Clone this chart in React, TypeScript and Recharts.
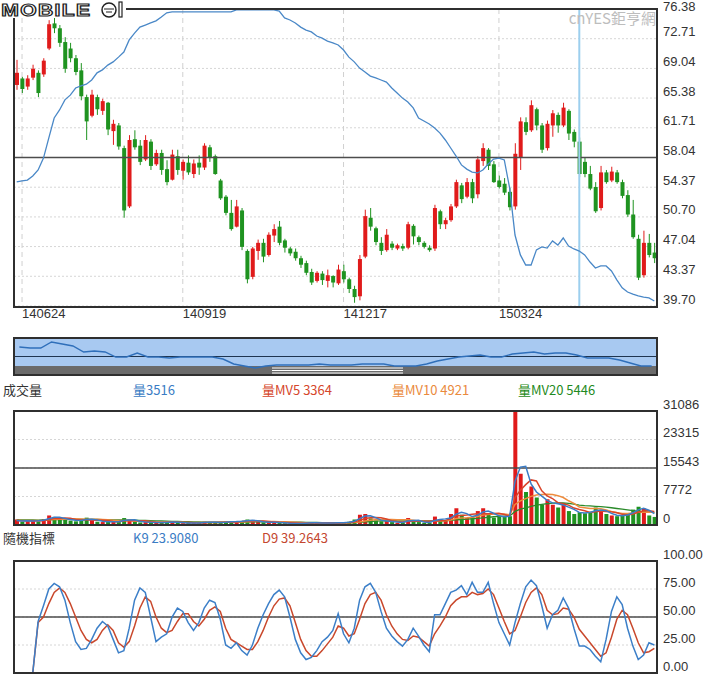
import React from 'react'
import {
  ComposedChart,
  Bar,
  Line,
  XAxis,
  YAxis,
  CartesianGrid,
  ReferenceLine,
  Cell,
} from 'recharts'

// x axis: bar index -> date label
const dateTicks = [1, 31, 61, 90]
const dateLabels = ['140624', '140919', '141217', '150324']
const cursorIndex = 105

const priceTicks = [39.7, 43.37, 47.04, 50.7, 54.37, 58.04, 61.71, 65.38, 69.04, 72.71, 76.38]
const volTicks = [0, 7772, 15543, 23315, 31086]
const kdTicks = [0, 25, 50, 75, 100]

const opens = [
  67.0, 67.8, 66.8, 67.9, 68.5, 68.3, 71.5, 74.6, 74.0, 72.3,
  71.5, 70.3, 68.8, 65.5, 63.2, 65.5, 63.8, 64.8, 61.3, 62.0,
  59.2, 52.0, 60.3, 59.5, 57.8, 60.0, 57.2, 58.6, 56.6, 55.3,
  58.2, 56.4, 57.4, 56.0, 57.4, 56.8, 59.3, 58.2, 55.2, 53.2,
  51.2, 49.5, 51.5, 46.5, 43.3, 46.5, 47.5, 46.0, 48.4, 49.5,
  47.8, 46.8, 46.4, 45.6, 45.0, 43.9, 42.8, 43.7, 42.8, 43.4,
  42.5, 44.0, 43.0, 41.8, 40.9, 45.8, 50.6, 49.3, 47.5, 46.6,
  47.4, 46.8, 47.1, 46.9, 49.6, 48.2, 47.5, 46.9, 46.8, 51.4,
  49.8, 50.3, 52.0, 54.6, 53.2, 55.0, 53.5, 57.6, 59.0, 57.2,
  55.2, 54.8, 53.8, 52.0, 58.0, 62.4, 61.4, 64.0, 62.0, 59.2,
  62.0, 63.3, 62.0, 63.8, 61.2, 60.0, 57.5, 56.0, 54.4, 51.8,
  56.2, 55.2, 56.2, 55.0, 53.4, 51.0, 48.0, 43.5, 47.5, 46.3,
]
const highs = [
  70.1, 68.0, 68.2, 69.5, 68.8, 70.3, 75.0, 75.9, 74.4, 72.9,
  72.2, 70.7, 69.7, 65.8, 66.4, 65.8, 65.3, 64.9, 62.7, 62.3,
  59.5, 60.8, 61.4, 60.2, 60.8, 60.3, 59.0, 59.0, 57.7, 59.0,
  59.0, 57.8, 58.3, 57.8, 58.3, 59.8, 59.6, 58.4, 55.4, 53.4,
  52.8, 52.8, 51.8, 46.7, 47.0, 47.9, 48.0, 48.8, 49.8, 50.2,
  48.0, 47.0, 46.8, 45.9, 45.3, 44.3, 44.0, 44.0, 44.2, 43.5,
  44.8, 44.8, 43.2, 42.2, 46.0, 51.6, 51.8, 49.5, 48.2, 49.2,
  47.7, 47.4, 47.4, 50.1, 49.8, 48.4, 47.7, 47.2, 52.2, 51.6,
  50.6, 52.3, 55.3, 54.9, 55.5, 55.4, 58.2, 59.8, 59.2, 57.6,
  55.8, 55.5, 54.3, 59.8, 63.0, 63.0, 65.1, 64.2, 62.3, 62.6,
  63.9, 63.6, 64.8, 64.0, 61.5, 60.5, 58.0, 57.0, 55.0, 57.0,
  56.5, 56.9, 56.5, 55.3, 54.0, 52.8, 48.5, 49.0, 48.6, 47.5,
]
const lows = [
  66.4, 66.0, 66.4, 67.6, 65.5, 68.0, 71.3, 73.4, 71.7, 68.5,
  69.8, 68.2, 65.1, 60.2, 63.0, 63.3, 63.3, 60.8, 59.6, 59.0,
  50.6, 51.8, 59.0, 57.1, 57.6, 56.5, 57.0, 55.9, 54.6, 55.2,
  55.9, 55.3, 55.9, 55.5, 55.9, 56.5, 57.5, 55.9, 52.8, 50.9,
  49.0, 49.4, 46.6, 42.5, 43.0, 45.4, 45.1, 45.8, 47.6, 47.2,
  46.3, 45.9, 45.3, 44.4, 43.5, 42.3, 42.6, 42.3, 42.0, 42.0,
  42.3, 42.6, 41.3, 40.1, 40.4, 45.6, 49.0, 47.2, 46.0, 46.4,
  46.6, 46.6, 46.5, 46.7, 47.3, 47.2, 46.8, 46.4, 46.5, 49.2,
  49.2, 50.1, 51.8, 52.4, 53.0, 52.4, 53.0, 57.0, 56.5, 54.9,
  54.2, 53.4, 51.5, 51.6, 56.5, 60.8, 61.2, 61.4, 58.6, 58.9,
  60.6, 61.1, 61.8, 60.2, 59.3, 55.6, 55.6, 54.0, 51.2, 51.5,
  54.8, 55.0, 54.8, 53.0, 50.7, 48.0, 42.9, 43.2, 45.7, 45.0,
]
const closes = [
  68.5, 66.5, 67.8, 69.0, 66.0, 70.0, 74.5, 74.0, 72.2, 69.0,
  70.3, 68.6, 65.6, 62.5, 65.8, 64.0, 65.0, 61.5, 62.2, 59.4,
  51.5, 60.2, 59.3, 57.5, 60.2, 57.0, 58.6, 56.5, 55.0, 58.4,
  56.5, 57.5, 56.2, 57.3, 56.8, 59.5, 58.0, 56.0, 53.0, 51.2,
  49.2, 52.0, 47.0, 43.0, 46.8, 47.5, 45.8, 48.5, 49.2, 47.5,
  46.9, 46.2, 45.6, 44.8, 43.8, 42.6, 43.8, 42.9, 43.5, 42.6,
  44.2, 43.0, 41.8, 40.8, 45.5, 50.8, 49.5, 47.6, 46.5, 48.5,
  46.9, 47.2, 46.8, 49.8, 48.3, 47.6, 47.0, 46.6, 51.8, 49.8,
  50.3, 52.0, 55.0, 52.9, 55.0, 53.0, 57.8, 59.2, 57.0, 55.0,
  54.4, 53.7, 51.9, 58.5, 62.5, 61.2, 64.5, 62.0, 59.0, 62.2,
  63.5, 62.0, 64.2, 61.0, 60.0, 56.0, 56.0, 54.2, 51.4, 56.2,
  55.0, 56.3, 55.0, 53.3, 51.0, 48.2, 43.2, 47.5, 46.0, 45.6,
]

// blue overlay line in the price panel (own 0-100 scale)
const trendLine = [
  41.8, 42.1, 42.4, 43.8, 45.8, 49.8, 56.6, 63.3, 66.0, 69.4,
  71.0, 73.4, 74.1, 74.7, 76.1, 78.5, 79.5, 81.1, 82.2, 83.8,
  85.5, 89.6, 91.9, 93.9, 94.6, 95.3, 96.0, 97.3, 98.7, 99.0,
  99.0, 99.0, 99.0, 99.0, 99.0, 99.0, 99.0, 99.0, 99.0, 99.0,
  99.0, 99.7, 99.7, 99.7, 99.7, 99.7, 99.7, 99.7, 99.7, 99.3,
  97.0, 96.3, 95.3, 93.9, 92.9, 92.3, 90.9, 90.2, 89.2, 88.6,
  87.9, 86.2, 83.8, 82.2, 80.1, 78.8, 77.4, 76.8, 76.1, 75.4,
  73.4, 71.7, 70.0, 68.7, 66.7, 63.3, 62.3, 61.3, 59.9, 58.2,
  55.9, 53.2, 50.5, 47.5, 46.1, 45.1, 44.8, 45.8, 47.8, 49.5,
  49.8, 49.2, 39.7, 23.9, 17.2, 13.8, 13.8, 18.9, 19.9, 19.5,
  21.9, 20.5, 22.9, 20.2, 19.2, 18.5, 17.2, 14.8, 12.8, 13.5,
  13.5, 11.8, 8.8, 6.1, 4.7, 4.0, 3.4, 3.0, 2.7, 1.7,
]

const volumes = [
  1500, 900, 1100, 1300, 1000, 1600, 2600, 2200, 1500, 1700,
  1200, 1000, 1400, 2000, 1300, 900, 800, 1000, 900, 800,
  1900, 1400, 900, 700, 800, 700, 600, 700, 800, 900,
  600, 500, 600, 500, 600, 900, 700, 600, 800, 900,
  1000, 900, 1100, 1500, 1200, 800, 700, 700, 800, 600,
  500, 400, 400, 500, 600, 700, 500, 500, 600, 500,
  700, 600, 900, 1500, 2800, 3000, 1800, 1200, 1000, 1100,
  800, 600, 700, 1900, 1100, 800, 600, 700, 2300, 1500,
  1200, 3000, 4600, 2800, 1900, 2200, 3800, 4600, 3000, 2000,
  2500, 2200, 2400, 31086, 14000, 9000, 10500, 7500, 5600, 7000,
  5500, 4800, 6000, 3800, 3000, 3516, 3200, 3600, 4800, 3900,
  3000, 2600, 2400, 2600, 3200, 4200, 5000, 4500, 2600, 2200,
]
const volLine = [
  1200, 1100, 1170, 1100, 1130, 1300, 1730, 2130, 2100, 1800,
  1470, 1300, 1200, 1470, 1570, 1400, 1000, 900, 900, 900,
  1200, 1370, 1400, 1000, 800, 730, 700, 670, 700, 800,
  770, 670, 570, 530, 570, 670, 730, 730, 700, 770,
  900, 930, 1000, 1170, 1270, 1170, 900, 730, 730, 700,
  630, 500, 430, 430, 500, 600, 600, 570, 530, 530,
  600, 600, 730, 1000, 1730, 2430, 2530, 2000, 1330, 1100,
  970, 830, 700, 1070, 1230, 1270, 830, 700, 1200, 1500,
  1670, 1900, 2930, 3470, 3100, 2300, 2630, 3530, 3800, 3200,
  2500, 2230, 2370, 11900, 15800, 16000, 11200, 9000, 7870, 6700,
  6030, 5770, 5430, 4870, 4270, 3440, 3240, 3440, 3870, 4100,
  3900, 3170, 2670, 2530, 2730, 3330, 4130, 4570, 4030, 3100,
]
const mv5 = [
  1200, 1150, 1150, 1160, 1160, 1180, 1520, 1740, 1780, 1920,
  1840, 1520, 1360, 1460, 1380, 1320, 1280, 1200, 980, 880,
  1080, 1200, 1180, 1140, 1140, 900, 740, 700, 720, 740,
  720, 700, 680, 620, 560, 620, 660, 660, 720, 780,
  800, 840, 940, 1080, 1140, 1100, 1060, 980, 840, 720,
  660, 600, 540, 480, 480, 520, 540, 560, 580, 560,
  560, 580, 660, 840, 1300, 1760, 2000, 2060, 1960, 1620,
  1180, 940, 840, 1020, 1020, 1020, 1020, 1020, 1100, 1180,
  1260, 1740, 2520, 2620, 2700, 2900, 3060, 3060, 3100, 3120,
  3180, 2860, 2420, 7500, 9500, 11000, 12300, 12000, 9300, 7920,
  7220, 6080, 5780, 5420, 4620, 4220, 3900, 3420, 3620, 3800,
  3700, 3580, 3340, 2900, 2760, 3000, 3480, 3900, 3900, 3700,
]
const mv10 = [
  1300, 1250, 1250, 1250, 1250, 1300, 1400, 1500, 1550, 1600,
  1650, 1700, 1650, 1600, 1600, 1550, 1500, 1400, 1300, 1200,
  1200, 1150, 1100, 1050, 1000, 950, 900, 850, 800, 780,
  760, 730, 700, 700, 700, 690, 680, 690, 700, 720,
  760, 800, 850, 920, 980, 1010, 1000, 980, 960, 920,
  880, 820, 760, 700, 640, 600, 570, 560, 560, 550,
  550, 550, 600, 680, 850, 1100, 1280, 1400, 1500, 1500,
  1470, 1450, 1400, 1400, 1300, 1100, 1000, 980, 1060, 1100,
  1140, 1380, 1760, 1900, 1980, 2100, 2330, 2720, 2850, 2990,
  3050, 2980, 2800, 5600, 6600, 7200, 7800, 8200, 8350, 8400,
  8300, 8000, 7500, 6600, 5900, 4920, 4700, 4500, 4500, 4400,
  4100, 3700, 3400, 3150, 3150, 3300, 3450, 3550, 3500, 3500,
]
const mv20 = [
  1400, 1380, 1370, 1360, 1350, 1360, 1400, 1450, 1480, 1500,
  1520, 1540, 1540, 1530, 1520, 1500, 1480, 1450, 1420, 1400,
  1380, 1350, 1320, 1280, 1240, 1200, 1150, 1100, 1050, 1000,
  960, 920, 880, 850, 820, 800, 790, 780, 780, 780,
  780, 790, 800, 820, 840, 860, 860, 850, 840, 830,
  810, 790, 770, 750, 720, 700, 680, 660, 640, 620,
  610, 600, 610, 640, 720, 850, 950, 1050, 1100, 1150,
  1150, 1150, 1150, 1150, 1150, 1150, 1120, 1100, 1100, 1100,
  1150, 1260, 1400, 1500, 1600, 1700, 1800, 1950, 2100, 2250,
  2350, 2400, 2400, 3700, 4300, 4700, 5100, 5400, 5600, 5800,
  5950, 6000, 6050, 5900, 5700, 5446, 5300, 5200, 5100, 5000,
  4900, 4700, 4500, 4300, 4100, 3900, 3700, 3600, 3500, 3400,
]

const kValues = [
  0, 0, 0, 0, 46, 60, 75, 80, 77, 65,
  45, 28, 21, 22, 30, 40, 46, 42, 30, 18,
  20, 40, 65, 76, 72, 50, 28, 32, 35, 50,
  58, 55, 45, 38, 45, 58, 65, 63, 48, 25,
  22, 27, 20, 16, 25, 40, 52, 62, 70, 74,
  68, 50, 30, 18, 12, 14, 20, 28, 32, 38,
  53, 35, 27, 40, 65, 77, 80, 72, 55, 40,
  33, 28, 24, 30, 40, 33, 25, 19, 52, 52,
  62, 72, 74, 78, 70, 81, 72, 72, 81, 62,
  45, 35, 25, 45, 62, 77, 83, 78, 60, 40,
  52, 56, 67, 58, 40, 24, 24, 21, 15, 10,
  30, 55, 68, 61, 40, 24, 12, 16, 27, 25,
]
const dValues = [
  0, 0, 0, 0, 45, 50, 62, 72, 76, 72,
  62, 50, 38, 30, 27, 30, 38, 43, 38, 27,
  23, 28, 42, 58, 68, 64, 50, 40, 36, 38,
  46, 53, 53, 46, 42, 48, 56, 59, 55, 40,
  30, 27, 24, 21, 21, 28, 38, 50, 60, 66,
  67, 60, 45, 30, 20, 15, 15, 20, 26, 32,
  42, 40, 33, 35, 48, 62, 70, 72, 65, 52,
  42, 35, 30, 29, 33, 32, 28, 24, 35, 42,
  50, 60, 65, 68, 68, 72, 70, 71, 75, 70,
  58, 46, 35, 38, 50, 63, 72, 76, 70, 56,
  52, 53, 58, 57, 50, 39, 33, 27, 21, 15,
  18, 32, 48, 56, 52, 40, 27, 18, 19, 22,
]

// navigator (whole history, compressed)
const navCloses = [
  67.8, 66.5, 66.5, 74.6, 71.9, 69.2, 61.1, 62.4, 61.1, 54.3,
  54.3, 59.7, 54.3, 54.3, 53.0, 54.3, 54.3, 54.3, 54.3, 51.6,
  44.9, 42.2, 39.5, 42.2, 43.5, 43.5, 43.5, 43.5, 44.9, 43.5,
  43.5, 43.5, 44.9, 44.9, 44.9, 42.2, 42.2, 42.2, 44.9, 48.9,
  51.6, 54.3, 55.7, 57.0, 54.3, 54.3, 58.4, 59.7, 61.1, 58.4,
  59.7, 59.7, 57.0, 53.0, 53.0, 53.0, 50.3, 46.2, 42.2, 42.2,
]

const UP = '#e01b1b'
const DOWN = '#1f9320'
const NUM_FONT = '"Liberation Sans", Arial, sans-serif'
const CJK_FONT = '"Noto Sans CJK TC", "Noto Sans", sans-serif'

const rows = closes.map((c, i) => ({
  i,
  open: opens[i],
  high: highs[i],
  low: lows[i],
  close: c,
  range: [lows[i], highs[i]],
  trend: trendLine[i],
  vol: volumes[i],
  volLine: volLine[i],
  mv5: mv5[i],
  mv10: mv10[i],
  mv20: mv20[i],
  k: kValues[i],
  d: dValues[i],
}))
const navRows = navCloses.map((v, n) => ({ n, v }))

const Candle = (props: any) => {
  const { x, y, width, height, payload } = props
  const { open, close, high, low } = payload
  const color = close >= open ? UP : DOWN
  const top = Math.min(y, y + height)
  const h = Math.abs(height)
  const span = high - low
  const yOf = (v: number) => (span > 0 ? top + ((high - v) / span) * h : top)
  const bodyTop = yOf(Math.max(open, close))
  const bodyH = Math.max(1, yOf(Math.min(open, close)) - bodyTop)
  const cx = x + width / 2
  return (
    <g>
      <line x1={cx} x2={cx} y1={top} y2={top + h} stroke={color} strokeWidth={1} />
      <rect x={x} y={bodyTop} width={width} height={bodyH} fill={color} />
    </g>
  )
}

const DateTick = ({ x, y, payload }: any) => (
  <text x={x} y={y + 12} fontSize={13} fill="#333" fontFamily={NUM_FONT} textAnchor="start">
    {dateLabels[dateTicks.indexOf(payload.value)]}
  </text>
)

// labels sit just above their grid line; keep the top one inside the picture
const rightTick = (fmt: (v: number) => string) => ({ x, y, payload }: any) => (
  <text
    x={x + 6}
    y={Math.max(y - 2.5, 11)}
    fontSize={13}
    fill="#333"
    fontFamily={NUM_FONT}
    textAnchor="start"
  >
    {fmt(payload.value)}
  </text>
)

const frame = (left: number, top: number, width: number, height: number) => (
  <div
    style={{
      position: 'absolute',
      left,
      top,
      width,
      height,
      boxSizing: 'border-box',
      border: '2px solid #2f2f2f',
      pointerEvents: 'none',
    }}
  />
)

const legend = (text: string, left: number, top: number, color: string) => (
  <div
    style={{
      position: 'absolute',
      left,
      top,
      fontFamily: CJK_FONT,
      fontSize: 13,
      color,
      whiteSpace: 'nowrap',
      lineHeight: '16px',
    }}
  >
    {text}
  </div>
)

const xAxisHidden = (
  <XAxis
    type="number"
    dataKey="i"
    domain={[-0.5, 119.5]}
    ticks={dateTicks}
    height={0}
    tick={false}
    axisLine={false}
    tickLine={false}
  />
)

export default function App() {
  return (
    <div
      style={{
        position: 'absolute',
        left: 0,
        top: 0,
        width: 720,
        height: 690,
        background: '#fff',
        overflow: 'hidden',
      }}
    >
      {/* price panel */}
      <div style={{ position: 'absolute', left: 0, top: 0 }}>
        <ComposedChart width={720} height={330} data={rows} margin={{ top: 9, right: 0, bottom: 0, left: 14 }}>
          <CartesianGrid yAxisId="p" stroke="#d6d6d6" strokeDasharray="2 2" vertical={false} />
          <CartesianGrid yAxisId="p" stroke="#d0d0d0" strokeDasharray="5 4" horizontal={false} />
          <XAxis
            type="number"
            dataKey="i"
            domain={[-0.5, 119.5]}
            ticks={dateTicks}
            interval={0}
            height={24}
            axisLine={false}
            tickLine={false}
            tickSize={0}
            tickMargin={0}
            tick={<DateTick />}
          />
          <YAxis
            yAxisId="p"
            orientation="right"
            width={63}
            domain={[39.7, 76.38]}
            ticks={priceTicks}
            interval={0}
            allowDataOverflow
            axisLine={false}
            tickLine={false}
            tickSize={0}
            tickMargin={0}
            tick={rightTick((v) => v.toFixed(2))}
          />
          <YAxis yAxisId="t" hide domain={[0, 100]} />
          <ReferenceLine yAxisId="p" y={58.04} stroke="#4d4d4d" strokeWidth={1.5} />
          <ReferenceLine yAxisId="p" x={cursorIndex} stroke="#9ccfee" strokeWidth={2} />
          <Bar yAxisId="p" dataKey="range" barSize={4} shape={Candle} isAnimationActive={false} />
          <Line
            yAxisId="t"
            dataKey="trend"
            stroke="#4a88c7"
            strokeWidth={1.3}
            dot={false}
            isAnimationActive={false}
          />
        </ComposedChart>
      </div>
      {frame(13, 8, 645, 300)}
      <div
        style={{
          position: 'absolute',
          right: 64,
          top: 7,
          fontFamily: CJK_FONT,
          fontSize: 15,
          color: '#bdbdbd',
        }}
      >
        cnYES鉅亨網
      </div>
      <svg style={{ position: 'absolute', left: 0, top: 0 }} width={128} height={20}>
        <rect x={0} y={0} width={126} height={18} fill="#fff" />
        <text
          x={1}
          y={16}
          fontFamily={NUM_FONT}
          fontSize={16}
          fontWeight="bold"
          letterSpacing={1}
          fill="#fff"
          stroke="#222"
          strokeWidth={1.1}
          transform="scale(1.32,1)"
        >
          MOBILE
        </text>
        <circle cx={109} cy={10} r={7} fill="#fff" stroke="#222" strokeWidth={1.5} />
        <path d="M104 9 L114 9 M106 12 L112 12" stroke="#222" strokeWidth={1.2} />
        <rect x={119} y={2} width={3} height={15} fill="#fff" stroke="#222" strokeWidth={1.2} />
      </svg>

      {/* navigator */}
      <div style={{ position: 'absolute', left: 14, top: 338, width: 643, height: 28, background: '#a8c9f1' }} />
      <div style={{ position: 'absolute', left: 14, top: 366, width: 643, height: 9, background: '#6b6b6b' }} />
      <div style={{ position: 'absolute', left: 0, top: 330 }}>
        <ComposedChart width={720} height={50} data={navRows} margin={{ top: 8, right: 63, bottom: 5, left: 14 }}>
          <XAxis type="number" dataKey="n" domain={[-0.5, 59.5]} hide />
          <YAxis domain={[30, 80]} hide allowDataOverflow />
          <ReferenceLine y={55} stroke="#1f3550" strokeWidth={1.2} />
          <Line dataKey="v" stroke="#2f6fba" strokeWidth={1.4} dot={false} isAnimationActive={false} />
        </ComposedChart>
      </div>
      <svg style={{ position: 'absolute', left: 272, top: 367 }} width={131} height={8}>
        <line x1={0} x2={131} y1={1} y2={1} stroke="#fff" strokeWidth={1} />
        <line x1={0} x2={131} y1={3.5} y2={3.5} stroke="#fff" strokeWidth={1} />
        <line x1={0} x2={131} y1={6} y2={6} stroke="#fff" strokeWidth={1} />
      </svg>
      {frame(13, 337, 645, 39)}

      {/* volume panel */}
      {legend('成交量', 3, 382, '#333')}
      {legend('量3516', 133, 382, '#3a7cc4')}
      {legend('量MV5 3364', 262, 382, '#d5462b')}
      {legend('量MV10 4921', 392, 382, '#ea8a3d')}
      {legend('量MV20 5446', 518, 382, '#1f8a22')}
      <div style={{ position: 'absolute', left: 0, top: 390 }}>
        <ComposedChart width={720} height={145} data={rows} margin={{ top: 21, right: 0, bottom: 10, left: 14 }}>
          <CartesianGrid stroke="#d6d6d6" strokeDasharray="2 2" vertical={false} />
          <CartesianGrid stroke="#d0d0d0" strokeDasharray="5 4" horizontal={false} />
          {xAxisHidden}
          <YAxis
            orientation="right"
            width={63}
            domain={[0, 31086]}
            ticks={volTicks}
            interval={0}
            allowDataOverflow
            axisLine={false}
            tickLine={false}
            tickSize={0}
            tickMargin={0}
            tick={rightTick((v) => String(v))}
          />
          <ReferenceLine y={15543} stroke="#4d4d4d" strokeWidth={1.5} />
          <Bar dataKey="vol" barSize={4} isAnimationActive={false}>
            {rows.map((r) => (
              <Cell key={r.i} fill={r.close >= r.open ? UP : DOWN} />
            ))}
          </Bar>
          <Line dataKey="mv20" stroke="#2a8a2a" strokeWidth={1.3} dot={false} isAnimationActive={false} />
          <Line dataKey="mv10" stroke="#ee8b3c" strokeWidth={1.5} dot={false} isAnimationActive={false} />
          <Line dataKey="mv5" stroke="#d9442a" strokeWidth={1.5} dot={false} isAnimationActive={false} />
          <Line dataKey="volLine" stroke="#3b7cc6" strokeWidth={1.5} dot={false} isAnimationActive={false} />
        </ComposedChart>
      </div>
      {frame(13, 410, 645, 116)}

      {/* KD panel */}
      {legend('隨機指標', 3, 530, '#333')}
      {legend('K9 23.9080', 133, 530, '#3a7cc4')}
      {legend('D9 39.2643', 262, 530, '#c4472f')}
      <div style={{ position: 'absolute', left: 0, top: 540 }}>
        <ComposedChart width={720} height={150} data={rows} margin={{ top: 21, right: 0, bottom: 17, left: 14 }}>
          <CartesianGrid stroke="#d6d6d6" strokeDasharray="2 2" vertical={false} />
          <CartesianGrid stroke="#d0d0d0" strokeDasharray="5 4" horizontal={false} />
          {xAxisHidden}
          <YAxis
            orientation="right"
            width={63}
            domain={[0, 100]}
            ticks={kdTicks}
            interval={0}
            axisLine={false}
            tickLine={false}
            tickSize={0}
            tickMargin={0}
            tick={rightTick((v) => v.toFixed(2))}
          />
          <ReferenceLine y={50} stroke="#4d4d4d" strokeWidth={1.5} />
          <Line dataKey="d" stroke="#c9482c" strokeWidth={1.5} dot={false} isAnimationActive={false} />
          <Line dataKey="k" stroke="#3c7fc8" strokeWidth={1.5} dot={false} isAnimationActive={false} />
        </ComposedChart>
      </div>
      {frame(13, 560, 645, 114)}
    </div>
  )
}
